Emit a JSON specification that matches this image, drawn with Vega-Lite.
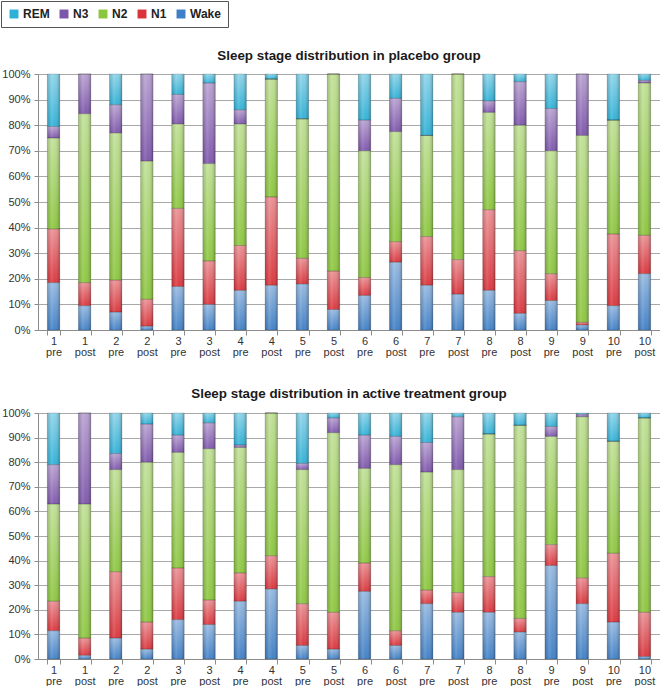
{
  "$schema": "https://vega.github.io/schema/vega-lite/v6.json",
  "padding": 0,
  "spacing": 29,
  "datasets": {
    "placebo": [
      {"bar": "1 pre", "Wake": 18.5, "N1": 21, "N2": 35.5, "N3": 4.5, "REM": 20.5},
      {"bar": "1 post", "Wake": 9.5, "N1": 9, "N2": 66, "N3": 15.5, "REM": 0},
      {"bar": "2 pre", "Wake": 7, "N1": 12.5, "N2": 57.5, "N3": 11, "REM": 12},
      {"bar": "2 post", "Wake": 1.5, "N1": 10.5, "N2": 54, "N3": 34, "REM": 0},
      {"bar": "3 pre", "Wake": 17, "N1": 30.5, "N2": 33, "N3": 11.5, "REM": 8},
      {"bar": "3 post", "Wake": 10, "N1": 17, "N2": 38, "N3": 31.5, "REM": 3.5},
      {"bar": "4 pre", "Wake": 15.5, "N1": 17.5, "N2": 47.5, "N3": 5.5, "REM": 14},
      {"bar": "4 post", "Wake": 17.5, "N1": 34.5, "N2": 46, "N3": 0, "REM": 2},
      {"bar": "5 pre", "Wake": 18, "N1": 10, "N2": 54.5, "N3": 0, "REM": 17.5},
      {"bar": "5 post", "Wake": 8, "N1": 15, "N2": 77, "N3": 0, "REM": 0},
      {"bar": "6 pre", "Wake": 13.5, "N1": 7, "N2": 49.5, "N3": 12, "REM": 18},
      {"bar": "6 post", "Wake": 26.5, "N1": 8, "N2": 43, "N3": 13, "REM": 9.5},
      {"bar": "7 pre", "Wake": 17.5, "N1": 19, "N2": 39.5, "N3": 0, "REM": 24},
      {"bar": "7 post", "Wake": 14, "N1": 13.5, "N2": 72.5, "N3": 0, "REM": 0},
      {"bar": "8 pre", "Wake": 15.5, "N1": 31.5, "N2": 38, "N3": 4.5, "REM": 10.5},
      {"bar": "8 post", "Wake": 6.5, "N1": 24.5, "N2": 49, "N3": 17, "REM": 3},
      {"bar": "9 pre", "Wake": 11.5, "N1": 10.5, "N2": 48, "N3": 16.5, "REM": 13.5},
      {"bar": "9 post", "Wake": 2, "N1": 1, "N2": 73, "N3": 24, "REM": 0},
      {"bar": "10 pre", "Wake": 9.5, "N1": 28, "N2": 44.5, "N3": 0, "REM": 18},
      {"bar": "10 post", "Wake": 22, "N1": 15, "N2": 59.5, "N3": 1, "REM": 2.5}
    ],
    "active": [
      {"bar": "1 pre", "Wake": 11.5, "N1": 12, "N2": 39.5, "N3": 16, "REM": 21},
      {"bar": "1 post", "Wake": 1.5, "N1": 7, "N2": 54.5, "N3": 37, "REM": 0},
      {"bar": "2 pre", "Wake": 8.5, "N1": 27, "N2": 41.5, "N3": 6.5, "REM": 16.5},
      {"bar": "2 post", "Wake": 4, "N1": 11, "N2": 65, "N3": 15.5, "REM": 4.5},
      {"bar": "3 pre", "Wake": 16, "N1": 21, "N2": 47, "N3": 7, "REM": 9},
      {"bar": "3 post", "Wake": 14, "N1": 10, "N2": 61.5, "N3": 10.5, "REM": 4},
      {"bar": "4 pre", "Wake": 23.5, "N1": 11.5, "N2": 51, "N3": 1, "REM": 13},
      {"bar": "4 post", "Wake": 28.5, "N1": 13.5, "N2": 58, "N3": 0, "REM": 0},
      {"bar": "5 pre", "Wake": 5.5, "N1": 17, "N2": 54.5, "N3": 2.5, "REM": 20.5},
      {"bar": "5 post", "Wake": 4, "N1": 15, "N2": 73, "N3": 6, "REM": 2},
      {"bar": "6 pre", "Wake": 27.5, "N1": 11.5, "N2": 38.5, "N3": 13.5, "REM": 9},
      {"bar": "6 post", "Wake": 5.5, "N1": 6, "N2": 67.5, "N3": 11.5, "REM": 9.5},
      {"bar": "7 pre", "Wake": 22.5, "N1": 5.5, "N2": 48, "N3": 12, "REM": 12},
      {"bar": "7 post", "Wake": 19, "N1": 8, "N2": 50, "N3": 21.5, "REM": 1.5},
      {"bar": "8 pre", "Wake": 19, "N1": 14.5, "N2": 58, "N3": 0, "REM": 8.5},
      {"bar": "8 post", "Wake": 11, "N1": 5.5, "N2": 78.5, "N3": 0, "REM": 5},
      {"bar": "9 pre", "Wake": 38, "N1": 8.5, "N2": 44, "N3": 4, "REM": 5.5},
      {"bar": "9 post", "Wake": 22.5, "N1": 10.5, "N2": 65.5, "N3": 1, "REM": 0.5},
      {"bar": "10 pre", "Wake": 15, "N1": 28, "N2": 45.5, "N3": 0, "REM": 11.5},
      {"bar": "10 post", "Wake": 1, "N1": 18, "N2": 79, "N3": 0, "REM": 2}
    ]
  },
  "config": {
    "font": "Liberation Sans",
    "view": {"stroke": null},
    "title": {"fontSize": 13.4, "fontWeight": "bold", "color": "#1a1a1a", "offset": 7, "font": "Liberation Sans"},
    "axis": {"labelFont": "Liberation Sans", "labelFontSize": 11, "labelColor": "#333333", "domainColor": "#8c8c8c", "tickColor": "#8c8c8c", "gridColor": "#a8a8a8", "title": null}
  },
  "resolve": {"legend": {"color": "independent"}, "scale": {"color": "independent"}},
  "vconcat": [
    {
      "title": {"text": "Sleep stage distribution in placebo group", "dy": 69},
      "width": 622,
      "height": 256,
      "data": {"name": "placebo"},
      "transform": [
        {"fold": ["Wake", "N1", "N2", "N3", "REM"], "as": ["stage", "pct"]},
        {"calculate": "indexof(['Wake','N1','N2','N3','REM'], datum.stage)", "as": "so"}
      ],
      "encoding": {
        "x": {"field": "bar", "type": "nominal", "sort": null, "scale": {"paddingInner": 0.6, "paddingOuter": 0.3},
          "axis": {"labelAngle": 0, "labelExpr": "split(datum.label, ' ')", "tickBand": "extent", "tickSize": 5, "grid": false, "labelPadding": 0, "labelLineHeight": 11}},
        "y": {"field": "pct", "type": "quantitative", "stack": "normalize", "scale": {"domain": [0, 1]},
          "axis": {"format": "%", "values": [0, 0.1, 0.2, 0.3, 0.4, 0.5, 0.6, 0.7, 0.8, 0.9, 1], "tickSize": 4, "grid": true, "labelPadding": 4}},
        "order": {"field": "so", "type": "quantitative"}
      },
      "layer": [
        {
          "mark": {"type": "bar"},
          "encoding": {
            "color": {"field": "stage", "type": "nominal",
              "scale": {"domain": ["REM", "N3", "N2", "N1", "Wake"], "range": ["#2fb0d6", "#7d55ab", "#8cc63f", "#d9343b", "#3f7fc6"]},
              "legend": {"orient": "none", "legendX": -37, "legendY": -73, "direction": "horizontal", "title": null,
                "strokeColor": "#555555", "padding": 7, "symbolType": "square", "symbolSize": 80, "symbolStrokeWidth": 0,
                "labelFontSize": 12, "labelFontWeight": "bold", "labelFont": "Liberation Sans", "labelColor": "#222222",
                "columnPadding": 8, "labelOffset": 3}}
          }
        },
        {
          "mark": {"type": "bar", "fill": {"gradient": "linear", "x1": 0, "y1": 0, "x2": 0, "y2": 1,
            "stops": [{"offset": 0, "color": "rgba(255,255,255,0.45)"}, {"offset": 1, "color": "rgba(255,255,255,0)"}]}},
          "encoding": {"detail": {"field": "stage"}}
        },
        {
          "mark": {"type": "bar", "stroke": "rgba(0,0,0,0.25)", "strokeWidth": 0.6, "fill": {"gradient": "linear", "x1": 0, "y1": 0, "x2": 1, "y2": 0,
            "stops": [{"offset": 0, "color": "rgba(0,0,0,0.14)"}, {"offset": 0.35, "color": "rgba(255,255,255,0.15)"}, {"offset": 0.6, "color": "rgba(255,255,255,0.03)"}, {"offset": 1, "color": "rgba(0,0,0,0.25)"}]}},
          "encoding": {"detail": {"field": "stage"}}
        }
      ]
    },
    {
      "title": "Sleep stage distribution in active treatment group",
      "width": 622,
      "height": 246,
      "data": {"name": "active"},
      "transform": [
        {"fold": ["Wake", "N1", "N2", "N3", "REM"], "as": ["stage", "pct"]},
        {"calculate": "indexof(['Wake','N1','N2','N3','REM'], datum.stage)", "as": "so"}
      ],
      "encoding": {
        "x": {"field": "bar", "type": "nominal", "sort": null, "scale": {"paddingInner": 0.6, "paddingOuter": 0.3},
          "axis": {"labelAngle": 0, "labelExpr": "split(datum.label, ' ')", "tickBand": "extent", "tickSize": 5, "grid": false, "labelPadding": 0, "labelLineHeight": 11}},
        "y": {"field": "pct", "type": "quantitative", "stack": "normalize", "scale": {"domain": [0, 1]},
          "axis": {"format": "%", "values": [0, 0.1, 0.2, 0.3, 0.4, 0.5, 0.6, 0.7, 0.8, 0.9, 1], "tickSize": 4, "grid": true, "labelPadding": 4}},
        "order": {"field": "so", "type": "quantitative"}
      },
      "layer": [
        {
          "mark": {"type": "bar"},
          "encoding": {
            "color": {"field": "stage", "type": "nominal",
              "scale": {"domain": ["REM", "N3", "N2", "N1", "Wake"], "range": ["#2fb0d6", "#7d55ab", "#8cc63f", "#d9343b", "#3f7fc6"]},
              "legend": null}
          }
        },
        {
          "mark": {"type": "bar", "fill": {"gradient": "linear", "x1": 0, "y1": 0, "x2": 0, "y2": 1,
            "stops": [{"offset": 0, "color": "rgba(255,255,255,0.45)"}, {"offset": 1, "color": "rgba(255,255,255,0)"}]}},
          "encoding": {"detail": {"field": "stage"}}
        },
        {
          "mark": {"type": "bar", "stroke": "rgba(0,0,0,0.25)", "strokeWidth": 0.6, "fill": {"gradient": "linear", "x1": 0, "y1": 0, "x2": 1, "y2": 0,
            "stops": [{"offset": 0, "color": "rgba(0,0,0,0.14)"}, {"offset": 0.35, "color": "rgba(255,255,255,0.15)"}, {"offset": 0.6, "color": "rgba(255,255,255,0.03)"}, {"offset": 1, "color": "rgba(0,0,0,0.25)"}]}},
          "encoding": {"detail": {"field": "stage"}}
        }
      ]
    }
  ]
}
